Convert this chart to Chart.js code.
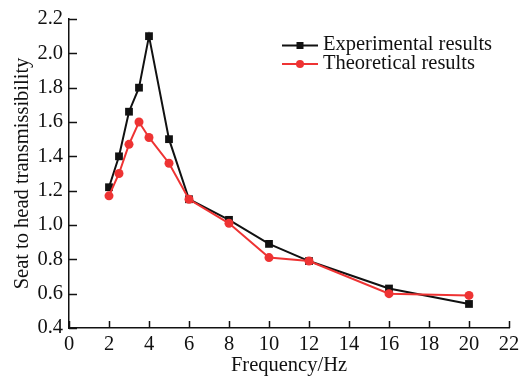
<!DOCTYPE html>
<html>
<head>
<meta charset="utf-8">
<script src="https://cdn.jsdelivr.net/npm/chart.js@4.4.1/dist/chart.umd.min.js"></script>
<style>
html,body{margin:0;padding:0;background:#fff;}
#wrap{width:526px;height:376px;}
</style>
</head>
<body>
<div id="wrap"><canvas id="c" width="526" height="376"></canvas></div>
<script>
const frequencies = [2, 2.5, 3, 3.5, 4, 5, 6, 8, 10, 12, 16, 20];
const experimental = [1.22, 1.40, 1.66, 1.80, 2.10, 1.50, 1.15, 1.03, 0.89, 0.79, 0.63, 0.54];
const theoretical = [1.17, 1.30, 1.47, 1.60, 1.51, 1.36, 1.15, 1.01, 0.81, 0.79, 0.60, 0.59];
const xTicks = [0, 2, 4, 6, 8, 10, 12, 14, 16, 18, 20, 22];
const yTicks = [0.4, 0.6, 0.8, 1.0, 1.2, 1.4, 1.6, 1.8, 2.0, 2.2];
const seriesNames = ['Experimental results', 'Theoretical results'];
const xTitle = 'Frequency/Hz';
const yTitle = 'Seat to head transmissibility';

const BLACK = '#111111';
const RED = '#ee3333';
const FONT = 'Liberation Serif, Times New Roman, serif';
const FS = 20.5;

const toPts = (ys) => frequencies.map((f, i) => ({x: f, y: ys[i]}));

const insideTicks = {
  id: 'insideTicks',
  afterDraw(chart) {
    const ctx = chart.ctx;
    const xs = chart.scales.x, ys = chart.scales.y;
    ctx.save();
    ctx.strokeStyle = BLACK;
    ctx.lineWidth = 1.5;
    ctx.beginPath();
    xTicks.forEach(v => {
      const px = Math.round(xs.getPixelForValue(v)) + 0.5;
      ctx.moveTo(px, ys.bottom);
      ctx.lineTo(px, ys.bottom - 7);
    });
    yTicks.forEach(v => {
      const py = Math.round(ys.getPixelForValue(v)) + 0.5;
      ctx.moveTo(xs.left, py);
      ctx.lineTo(xs.left + 8, py);
    });
    ctx.stroke();
    // legend
    const items = [
      {name: seriesNames[0], color: BLACK, style: 'rect', ly: 45.5, ty: 49.5},
      {name: seriesNames[1], color: RED, style: 'circle', ly: 64, ty: 68.5}
    ];
    items.forEach(it => {
      ctx.strokeStyle = it.color;
      ctx.fillStyle = it.color;
      ctx.lineWidth = 2;
      ctx.beginPath();
      ctx.moveTo(282, it.ly);
      ctx.lineTo(318, it.ly);
      ctx.stroke();
      ctx.beginPath();
      if (it.style === 'rect') {
        ctx.rect(300 - 3.5, it.ly - 3.5, 7, 7);
      } else {
        ctx.arc(300, it.ly, 4, 0, Math.PI * 2);
      }
      ctx.fill();
      ctx.font = FS + 'px ' + FONT;
      ctx.fillStyle = BLACK;
      ctx.textBaseline = 'alphabetic';
      ctx.textAlign = 'left';
      ctx.fillText(it.name, 323, it.ty);
    });
    ctx.restore();
  }
};

new Chart(document.getElementById('c'), {
  type: 'line',
  data: {
    datasets: [
      {
        label: seriesNames[0],
        data: toPts(experimental),
        borderColor: BLACK,
        backgroundColor: BLACK,
        borderWidth: 2,
        pointStyle: 'rect',
        pointRadius: 5.5,
        pointHoverRadius: 5.5,
        pointBorderWidth: 0,
        tension: 0,
        order: 2
      },
      {
        label: seriesNames[1],
        data: toPts(theoretical),
        borderColor: RED,
        backgroundColor: RED,
        borderWidth: 2,
        pointStyle: 'circle',
        pointRadius: 4.5,
        pointHoverRadius: 4.5,
        pointBorderWidth: 0,
        tension: 0,
        order: 1
      }
    ]
  },
  options: {
    responsive: false,
    animation: false,
    devicePixelRatio: 1,
    layout: {padding: {top: 19, right: 17, left: 0, bottom: 0}},
    plugins: {
      legend: {display: false},
      tooltip: {enabled: false}
    },
    scales: {
      x: {
        type: 'linear',
        min: 0, max: 22,
        afterBuildTicks: (s) => { s.ticks = xTicks.map(v => ({value: v})); },
        afterFit: (s) => { s.height = 48; },
        ticks: {color: BLACK, font: {family: FONT, size: FS}, padding: 4, maxRotation: 0, autoSkip: false},
        grid: {display: false, drawTicks: false, tickLength: 0},
        border: {display: true, color: BLACK, width: 1.5},
        title: {display: true, text: xTitle, color: BLACK, font: {family: FONT, size: FS, lineHeight: 1.0}, padding: {top: -2, bottom: 0}}
      },
      y: {
        type: 'linear',
        min: 0.4, max: 2.2,
        afterBuildTicks: (s) => { s.ticks = yTicks.map(v => ({value: v})); },
        afterFit: (s) => { s.width = 69; },
        ticks: {color: BLACK, font: {family: FONT, size: FS}, padding: 6, callback: (v) => v.toFixed(1), autoSkip: false},
        grid: {display: false, drawTicks: false, tickLength: 0},
        border: {display: true, color: BLACK, width: 1.5},
        title: {display: true, text: yTitle, color: BLACK, font: {family: FONT, size: FS, lineHeight: 1.0}, padding: {top: 12, bottom: 0}}
      }
    }
  },
  plugins: [insideTicks]
});
</script>
</body>
</html>
